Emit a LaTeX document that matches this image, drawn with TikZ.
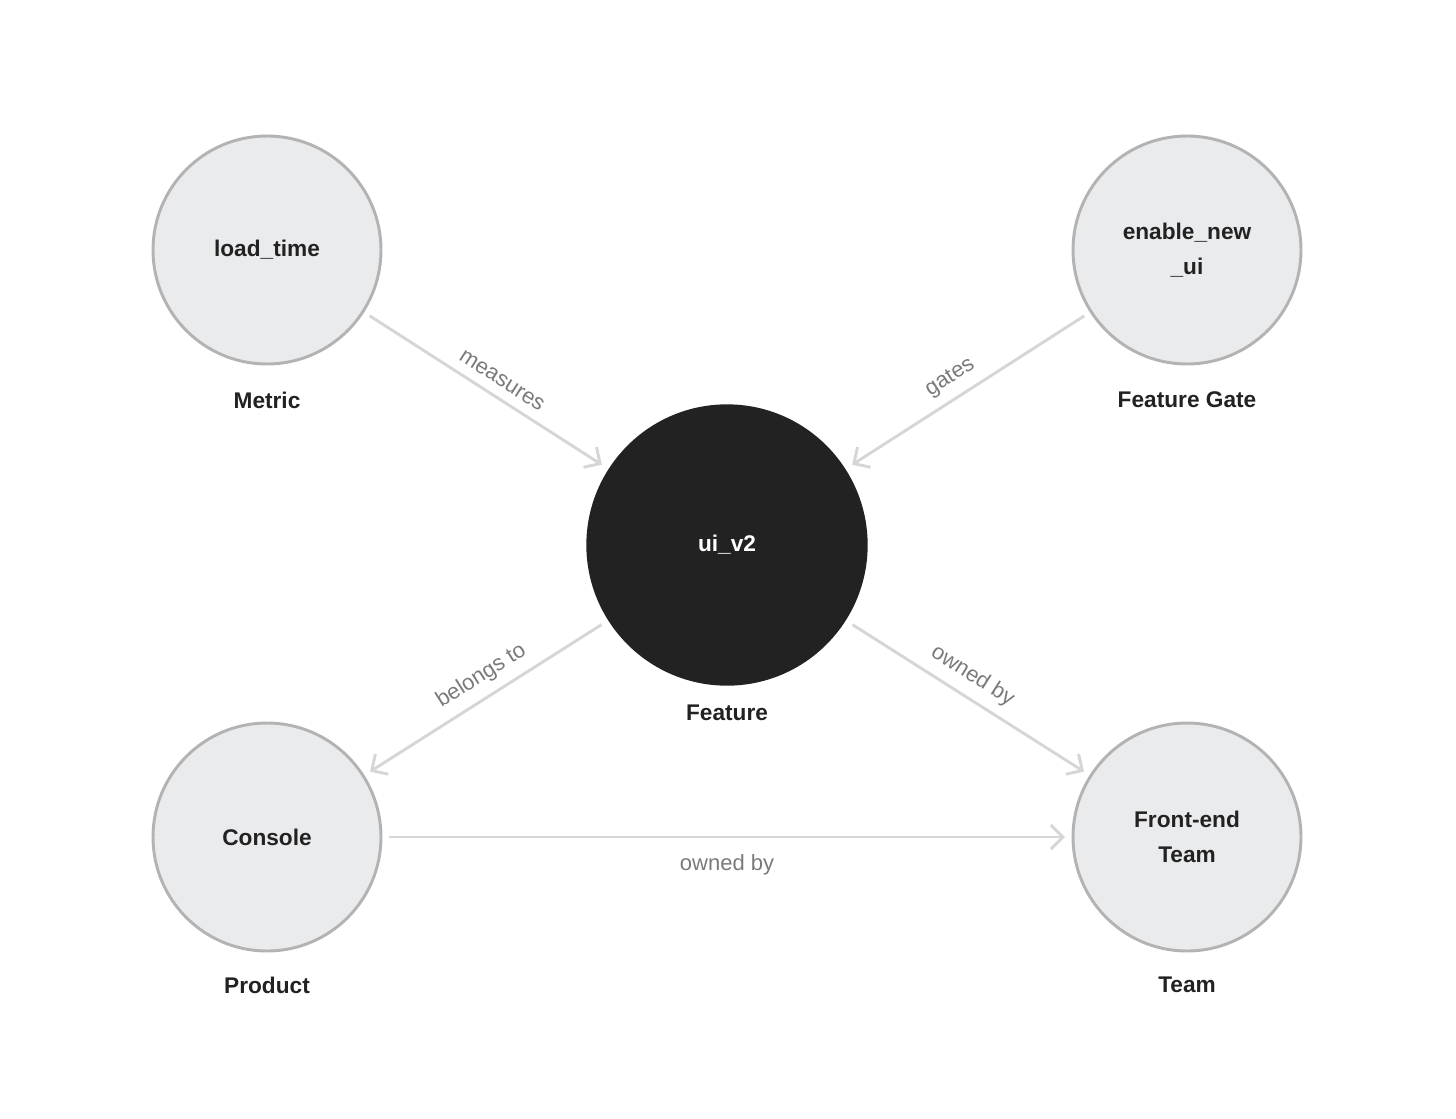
\documentclass[tikz,border=0pt]{standalone}
\usepackage{fontspec}
\setmainfont{Liberation Sans}
\usetikzlibrary{arrows.meta}
\definecolor{nodefill}{HTML}{EAEBED}
\definecolor{nodeline}{HTML}{B3B3B3}
\definecolor{dark}{HTML}{222222}
\definecolor{edgec}{HTML}{D6D6D6}
\definecolor{labc}{HTML}{7A7A7A}
\begin{document}
\begin{tikzpicture}[x=0.75pt,y=-0.75pt,
  ent/.style={circle,minimum size=171pt,fill=nodefill,draw=nodeline,line width=2.2pt,font=\bfseries\fontsize{17}{26}\selectfont,text=dark,align=center,outer sep=6pt},
  main/.style={circle,minimum size=211pt,fill=dark,draw=none,font=\bfseries\fontsize{17}{22}\selectfont,text=white,outer sep=6pt},
  typ/.style={font=\bfseries\fontsize{17}{22}\selectfont,text=dark},
  edge/.style={draw=edgec,line width=2.2pt,-{Straight Barb[length=9pt,width=18pt,line width=2.2pt]}},
  elab/.style={font=\fontsize{16.5}{20}\selectfont,text=labc,sloped,inner sep=1pt}]
\useasboundingbox (0,0) rectangle (1456,1118);
\node[ent] (lt) at (267,250) {load\_time};
\node[ent] (eg) at (1187,250) {enable\_new\\\_ui};
\node[main] (ui) at (727,545) {ui\_v2};
\node[ent] (co) at (267,837) {Console};
\node[ent] (fe) at (1187,837) {Front-end\\Team};
\node[typ] (t1) at (267,400) {Metric};
\node[typ] (t2) at (1187,400) {Feature Gate};
\node[typ] (t3) at (727,713) {Feature};
\node[typ] (t4) at (267,985) {Product};
\node[typ] (t5) at (1187,985) {Team};
\draw[edge] (lt) -- node[elab,above=6pt,pos=0.53] {measures} (ui);
\draw[edge] (eg) -- node[elab,above=6pt,pos=0.53] {gates} (ui);
\draw[edge] (ui) -- node[elab,above=6pt,pos=0.47] {belongs to} (co);
\draw[edge] (ui) -- node[elab,above=6pt,pos=0.47] {owned by} (fe);
\draw[edge] (co) -- node[elab,below=11pt] {owned by} (fe);
\end{tikzpicture}
\end{document}
